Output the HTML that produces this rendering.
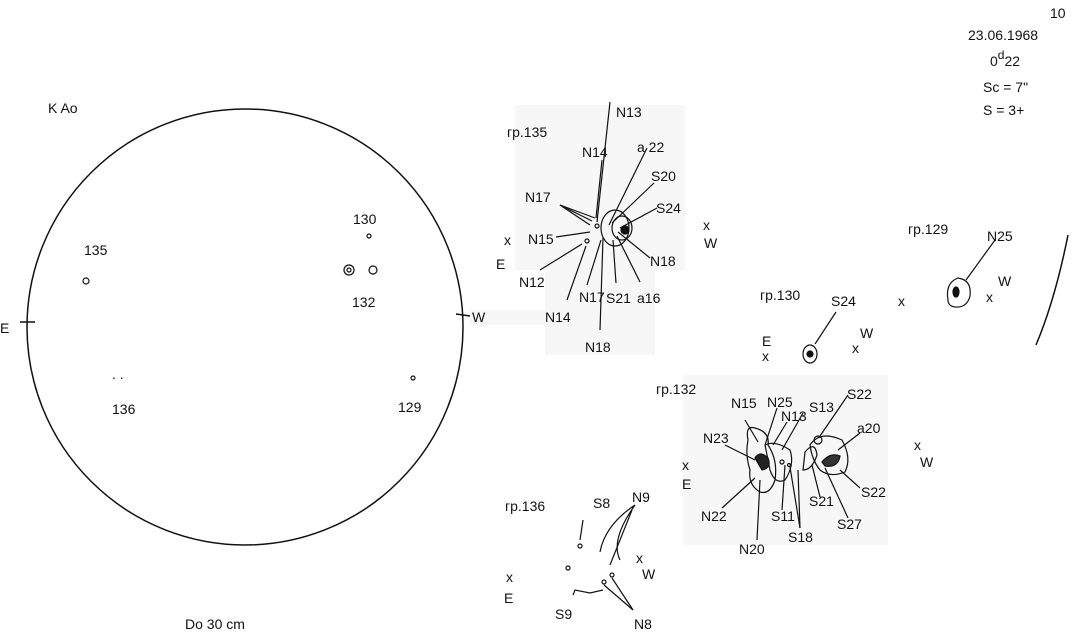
<!DOCTYPE html>
<html><head><meta charset="utf-8"><style>
html,body{margin:0;padding:0;background:#fff;}
svg{display:block;}
text{font-family:"Liberation Sans",sans-serif;fill:#111;font-size:14px;}
</style></head><body>
<svg width="1076" height="635" viewBox="0 0 1076 635" xmlns="http://www.w3.org/2000/svg">
<g fill="#f7f7f7">
<rect x="515" y="105" width="170" height="165"/>
<rect x="545" y="265" width="110" height="90"/>
<rect x="683" y="375" width="205" height="170"/>
<rect x="470" y="310" width="80" height="15"/>
</g>
<g stroke="#111" fill="none" stroke-width="1.5">
<circle cx="245" cy="327" r="218"/>
<line x1="20" y1="322" x2="35" y2="322"/>
<line x1="456" y1="314" x2="470" y2="316"/>
<path d="M1036 345 Q1055 300 1068 235"/>
</g>
<g stroke="#111" stroke-width="1.2" fill="none">
<circle cx="369" cy="236" r="2"/>
<circle cx="349" cy="270" r="5"/><circle cx="349" cy="270" r="2"/>
<circle cx="373" cy="270" r="4"/>
<circle cx="86" cy="281" r="3"/>
<circle cx="413" cy="378" r="2"/>
<ellipse cx="615" cy="228" rx="14" ry="18"/>
<ellipse cx="622" cy="228" rx="10" ry="12"/>
<circle cx="625" cy="230" r="4" fill="#111"/>
<circle cx="587" cy="241" r="2"/>
<circle cx="597" cy="226" r="2"/>
<line x1="597" y1="222" x2="610" y2="102"/>
<line x1="596" y1="218" x2="602" y2="160"/>
<line x1="609" y1="225" x2="647" y2="148"/>
<line x1="612" y1="223" x2="654" y2="183"/>
<line x1="620" y1="228" x2="657" y2="208"/>
<line x1="560" y1="205" x2="595" y2="218"/>
<line x1="560" y1="205" x2="590" y2="225"/>
<line x1="560" y1="205" x2="592" y2="221"/>
<line x1="556" y1="237" x2="590" y2="232"/>
<line x1="540" y1="270" x2="582" y2="244"/>
<line x1="567" y1="300" x2="586" y2="246"/>
<line x1="587" y1="285" x2="601" y2="240"/>
<line x1="600" y1="330" x2="603" y2="238"/>
<line x1="616" y1="283" x2="613" y2="240"/>
<line x1="640" y1="282" x2="617" y2="236"/>
<line x1="650" y1="258" x2="618" y2="232"/>
<ellipse cx="810" cy="354" rx="7" ry="9"/>
<circle cx="810" cy="354" r="3" fill="#111"/>
<line x1="815" y1="344" x2="836" y2="312"/>
<path d="M948 300 Q945 283 958 278 Q972 280 970 296 Q967 308 955 307 Q948 306 948 300Z"/>
<ellipse cx="956" cy="292" rx="3" ry="5" fill="#111"/>
<line x1="966" y1="280" x2="995" y2="240"/>
<path d="M748 440 Q745 425 755 428 Q770 432 768 445 Q778 460 775 480 Q770 495 760 492 Q748 485 750 470 Q745 455 748 440Z"/>
<path d="M765 445 Q775 440 790 450 Q795 465 785 480 Q775 485 770 470 Z"/>
<path d="M755 458 Q760 450 768 458 Q772 468 762 470 Z" fill="#222"/>
<path d="M805 452 Q815 440 817 455 Q812 470 803 470 Z"/>
<path d="M810 445 Q820 430 842 440 Q852 458 845 472 Q830 478 820 470 Q812 460 810 445Z"/>
<circle cx="818" cy="440" r="4"/>
<path d="M822 462 Q830 452 840 456 Q838 468 825 466Z" fill="#333"/>
<circle cx="782" cy="462" r="2"/><circle cx="789" cy="465" r="1.5"/>
<line x1="745" y1="420" x2="758" y2="442"/>
<line x1="777" y1="408" x2="765" y2="445"/>
<line x1="787" y1="422" x2="773" y2="445"/>
<line x1="803" y1="413" x2="782" y2="450"/>
<line x1="848" y1="395" x2="820" y2="436"/>
<line x1="860" y1="433" x2="838" y2="450"/>
<line x1="725" y1="445" x2="755" y2="460"/>
<line x1="722" y1="508" x2="755" y2="478"/>
<line x1="757" y1="540" x2="760" y2="480"/>
<line x1="782" y1="510" x2="785" y2="465"/>
<line x1="800" y1="528" x2="790" y2="467"/>
<line x1="800" y1="528" x2="798" y2="470"/>
<line x1="820" y1="497" x2="812" y2="465"/>
<line x1="848" y1="518" x2="825" y2="468"/>
<line x1="860" y1="488" x2="840" y2="470"/>
<path d="M600 552 Q605 525 635 505 Q610 540 620 560"/>
<line x1="583" y1="520" x2="580" y2="540"/>
<circle cx="580" cy="546" r="2"/>
<circle cx="568" cy="568" r="2"/>
<path d="M573 595 L575 590 L590 593 L603 590"/>
<line x1="604" y1="585" x2="633" y2="610"/>
<line x1="612" y1="578" x2="633" y2="610"/>
<circle cx="604" cy="582" r="2"/><circle cx="612" cy="575" r="2"/>
<line x1="610" y1="565" x2="632" y2="510"/>
</g>
<g>
<text x="48" y="113" font-size="17">K Ao</text>
<text x="84" y="255" font-size="16">135</text>
<text x="353" y="224" font-size="16">130</text>
<text x="352" y="307" font-size="16">132</text>
<text x="0" y="333" font-size="17">E</text>
<text x="472" y="322" font-size="14">W</text>
<text x="112" y="379" font-size="12">. .</text>
<text x="112" y="414" font-size="16">136</text>
<text x="398" y="412" font-size="16">129</text>
<text x="185" y="629" font-size="17">Do  30 cm</text>
<text x="968" y="40" font-size="15">23.06.1968</text>
<text x="990" y="66" font-size="16">0<tspan dy="-7" font-size="12">d</tspan><tspan dy="7">22</tspan></text>
<text x="983" y="92" font-size="16">Sc = 7"</text>
<text x="983" y="115" font-size="16">S  = 3+</text>
<text x="1050" y="18" font-size="17" fill="#999">10</text>
<text x="507" y="137" font-size="16">гр.135</text>
<text x="616" y="117" font-size="14">N13</text>
<text x="582" y="157" font-size="14">N14</text>
<text x="637" y="152" font-size="14">a 22</text>
<text x="651" y="181" font-size="14">S20</text>
<text x="656" y="213" font-size="14">S24</text>
<text x="525" y="202" font-size="14">N17</text>
<text x="528" y="244" font-size="14">N15</text>
<text x="504" y="245" font-size="13">x</text>
<text x="496" y="269" font-size="14">E</text>
<text x="703" y="230" font-size="13">x</text>
<text x="704" y="248" font-size="14">W</text>
<text x="519" y="287" font-size="14">N12</text>
<text x="545" y="322" font-size="14">N14</text>
<text x="579" y="302" font-size="14">N17</text>
<text x="606" y="303" font-size="14">S21</text>
<text x="637" y="303" font-size="14">a16</text>
<text x="650" y="266" font-size="14">N18</text>
<text x="585" y="352" font-size="14">N18</text>
<text x="908" y="234" font-size="16">гр.129</text>
<text x="987" y="241" font-size="15">N25</text>
<text x="998" y="286" font-size="14">W</text>
<text x="986" y="302" font-size="13">x</text>
<text x="898" y="306" font-size="13">x</text>
<text x="760" y="300" font-size="16">гр.130</text>
<text x="831" y="306" font-size="15">S24</text>
<text x="762" y="346" font-size="14">E</text>
<text x="762" y="361" font-size="13">x</text>
<text x="860" y="338" font-size="14">W</text>
<text x="852" y="353" font-size="13">x</text>
<text x="656" y="394" font-size="16">гр.132</text>
<text x="731" y="408" font-size="14">N15</text>
<text x="767" y="407" font-size="13">N25</text>
<text x="781" y="421" font-size="13">N13</text>
<text x="809" y="412" font-size="14">S13</text>
<text x="847" y="399" font-size="14">S22</text>
<text x="857" y="433" font-size="14">a20</text>
<text x="703" y="443" font-size="14">N23</text>
<text x="682" y="470" font-size="13">x</text>
<text x="682" y="489" font-size="14">E</text>
<text x="914" y="450" font-size="13">x</text>
<text x="920" y="467" font-size="14">W</text>
<text x="861" y="497" font-size="14">S22</text>
<text x="837" y="529" font-size="14">S27</text>
<text x="809" y="506" font-size="14">S21</text>
<text x="771" y="521" font-size="14">S11</text>
<text x="788" y="542" font-size="14">S18</text>
<text x="701" y="521" font-size="14">N22</text>
<text x="739" y="554" font-size="14">N20</text>
<text x="505" y="511" font-size="16">гр.136</text>
<text x="593" y="508" font-size="14">S8</text>
<text x="632" y="502" font-size="14">N9</text>
<text x="636" y="563" font-size="13">x</text>
<text x="642" y="579" font-size="14">W</text>
<text x="506" y="582" font-size="13">x</text>
<text x="504" y="603" font-size="14">E</text>
<text x="555" y="619" font-size="14">S9</text>
<text x="634" y="629" font-size="14">N8</text>
</g>
</svg>
</body></html>
